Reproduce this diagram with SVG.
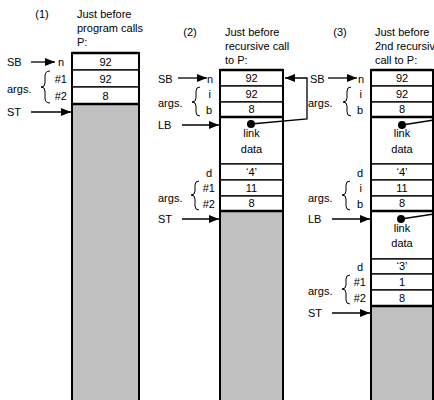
<svg xmlns="http://www.w3.org/2000/svg" width="434" height="400" viewBox="0 0 434 400">
<defs>
<marker id="ah" viewBox="0 0 10 8" refX="10" refY="4" markerWidth="10" markerHeight="8" markerUnits="userSpaceOnUse" orient="auto">
<path d="M0,0 L10,4 L0,8 Z" fill="#000"/>
</marker>
</defs>
<style>
text{font-family:"Liberation Sans",Arial,sans-serif;font-size:11px;fill:#000}
.c{text-anchor:middle}
.e{text-anchor:end}
.box{fill:#fff;stroke:#000;stroke-width:1.3}
.gray{fill:#c0c0c0;stroke:#000;stroke-width:2}
.frame{fill:none;stroke:#000;stroke-width:2}
.thick{stroke:#000;stroke-width:2.5}
.arr{fill:none;stroke:#000;stroke-width:1.3;marker-end:url(#ah)}
.br{fill:none;stroke:#000;stroke-width:1}
</style>

<g id="stack1">
<text x="42" y="18" class="c">(1)</text>
<text x="77" y="18">Just before</text>
<text x="77" y="32">program calls</text>
<text x="77" y="46">P:</text>
<rect x="72" y="53" width="67" height="17" class="box"/>
<rect x="72" y="70" width="67" height="17" class="box"/>
<rect x="72" y="87" width="67" height="17" class="box"/>
<rect x="72" y="104" width="67" height="300" class="gray"/>
<rect x="72" y="53" width="67" height="351" class="frame"/>
<line x1="72" y1="53" x2="139" y2="53" class="thick"/>
<line x1="72" y1="104" x2="139" y2="104" class="thick"/>
<text x="105.5" y="66" class="c">92</text>
<text x="105.5" y="83" class="c">92</text>
<text x="105.5" y="100" class="c">8</text>
<text x="7" y="66">SB</text>
<text x="64" y="66" class="e">n</text>
<text x="67" y="83" class="e">#1</text>
<text x="67" y="100" class="e">#2</text>
<text x="7" y="93">args.</text>
<path class="br" d="M50,71 Q45,71 45,76 L45,83 Q45,87 41,87 Q45,87 45,91 L45,98 Q45,103 50,103"/>
<text x="7" y="116">ST</text>
</g>

<g id="stack2">
<text x="190" y="36" class="c">(2)</text>
<text x="225" y="36">Just before</text>
<text x="225" y="50">recursive call</text>
<text x="225" y="64">to P:</text>
<rect x="220" y="70" width="63" height="16" class="box"/>
<rect x="220" y="86" width="63" height="16" class="box"/>
<rect x="220" y="102" width="63" height="15" class="box"/>
<rect x="220" y="117" width="63" height="47" class="box"/>
<rect x="220" y="164" width="63" height="16" class="box"/>
<rect x="220" y="180" width="63" height="16" class="box"/>
<rect x="220" y="196" width="63" height="15" class="box"/>
<rect x="220" y="211" width="63" height="193" class="gray"/>
<rect x="220" y="70" width="63" height="334" class="frame"/>
<line x1="220" y1="70" x2="283" y2="70" class="thick"/>
<line x1="220" y1="117" x2="283" y2="117" class="thick"/>
<line x1="220" y1="211" x2="283" y2="211" class="thick"/>
<text x="251.5" y="82" class="c">92</text>
<text x="251.5" y="98" class="c">92</text>
<text x="251.5" y="113" class="c">8</text>
<text x="251.5" y="137" class="c">link</text>
<text x="251.5" y="153" class="c">data</text>
<text x="251.5" y="176" class="c">‘4’</text>
<text x="251.5" y="192" class="c">11</text>
<text x="251.5" y="207" class="c">8</text>
<text x="158" y="83">SB</text>
<text x="213" y="83" class="e">n</text>
<text x="211" y="98" class="e">i</text>
<text x="212" y="114" class="e">b</text>
<text x="158" y="107">args.</text>
<path class="br" d="M200,87 Q196,87 196,91 L196,98 Q196,102 192,102 Q196,102 196,106 L196,112 Q196,116 200,116"/>
<text x="158" y="129">LB</text>
<text x="212" y="177" class="e">d</text>
<text x="215" y="192" class="e">#1</text>
<text x="215" y="208" class="e">#2</text>
<text x="158" y="202">args.</text>
<path class="br" d="M199,181 Q195,181 195,185 L195,191 Q195,195 191,195 Q195,195 195,199 L195,206 Q195,210 199,210"/>
<text x="158" y="223">ST</text>
<circle cx="251" cy="124" r="4" fill="#000"/>
</g>

<g id="stack3">
<text x="340" y="36" class="c">(3)</text>
<text x="375" y="36">Just before</text>
<text x="375" y="50">2nd recursive</text>
<text x="375" y="64">call to P:</text>
<rect x="371" y="70" width="62" height="16" class="box"/>
<rect x="371" y="86" width="62" height="16" class="box"/>
<rect x="371" y="102" width="62" height="15" class="box"/>
<rect x="371" y="117" width="62" height="47" class="box"/>
<rect x="371" y="164" width="62" height="16" class="box"/>
<rect x="371" y="180" width="62" height="16" class="box"/>
<rect x="371" y="196" width="62" height="15" class="box"/>
<rect x="371" y="211" width="62" height="48" class="box"/>
<rect x="371" y="259" width="62" height="15" class="box"/>
<rect x="371" y="274" width="62" height="16" class="box"/>
<rect x="371" y="290" width="62" height="16" class="box"/>
<rect x="371" y="306" width="62" height="98" class="gray"/>
<rect x="371" y="70" width="62" height="334" class="frame"/>
<line x1="371" y1="70" x2="433" y2="70" class="thick"/>
<line x1="371" y1="117" x2="433" y2="117" class="thick"/>
<line x1="371" y1="211" x2="433" y2="211" class="thick"/>
<line x1="371" y1="306" x2="433" y2="306" class="thick"/>
<text x="402" y="82" class="c">92</text>
<text x="402" y="98" class="c">92</text>
<text x="402" y="113" class="c">8</text>
<text x="402" y="137" class="c">link</text>
<text x="402" y="153" class="c">data</text>
<text x="402" y="176" class="c">‘4’</text>
<text x="402" y="192" class="c">11</text>
<text x="402" y="207" class="c">8</text>
<text x="402" y="232" class="c">link</text>
<text x="402" y="247" class="c">data</text>
<text x="402" y="270" class="c">‘3’</text>
<text x="402" y="286" class="c">1</text>
<text x="402" y="302" class="c">8</text>
<text x="310" y="83">SB</text>
<text x="364" y="83" class="e">n</text>
<text x="362" y="98" class="e">i</text>
<text x="363" y="114" class="e">b</text>
<text x="308" y="107">args.</text>
<path class="br" d="M351,87 Q347,87 347,91 L347,98 Q347,102 343,102 Q347,102 347,106 L347,112 Q347,116 351,116"/>
<text x="363" y="177" class="e">d</text>
<text x="362" y="192" class="e">i</text>
<text x="363" y="208" class="e">b</text>
<text x="308" y="202">args.</text>
<path class="br" d="M350,181 Q346,181 346,185 L346,191 Q346,195 342,195 Q346,195 346,199 L346,206 Q346,210 350,210"/>
<text x="308" y="223">LB</text>
<text x="363" y="271" class="e">d</text>
<text x="366" y="286" class="e">#1</text>
<text x="366" y="302" class="e">#2</text>
<text x="308" y="295">args.</text>
<path class="br" d="M350,275 Q346,275 346,279 L346,285 Q346,289 342,289 Q346,289 346,293 L346,300 Q346,304 350,304"/>
<text x="308" y="317">ST</text>
<circle cx="402" cy="125" r="4" fill="#000"/>
<circle cx="401" cy="219" r="4" fill="#000"/>
</g>

<g id="connectors">
<line x1="31" y1="62" x2="55" y2="62" class="arr"/>
<line x1="31" y1="112" x2="71" y2="112" class="arr"/>
<line x1="178" y1="78" x2="207" y2="78" class="arr"/>
<line x1="182" y1="125" x2="219" y2="125" class="arr"/>
<line x1="182" y1="219" x2="219" y2="219" class="arr"/>
<line x1="328" y1="78" x2="357" y2="78" class="arr"/>
<line x1="332" y1="219" x2="370" y2="219" class="arr"/>
<line x1="332" y1="313" x2="370" y2="313" class="arr"/>
<polyline points="251,124 307,119 307,78 285,78" class="arr"/>
<line x1="402" y1="125" x2="434" y2="120" stroke="#000" stroke-width="1.3"/>
<line x1="401" y1="219" x2="434" y2="214" stroke="#000" stroke-width="1.3"/>
</g>
</svg>
